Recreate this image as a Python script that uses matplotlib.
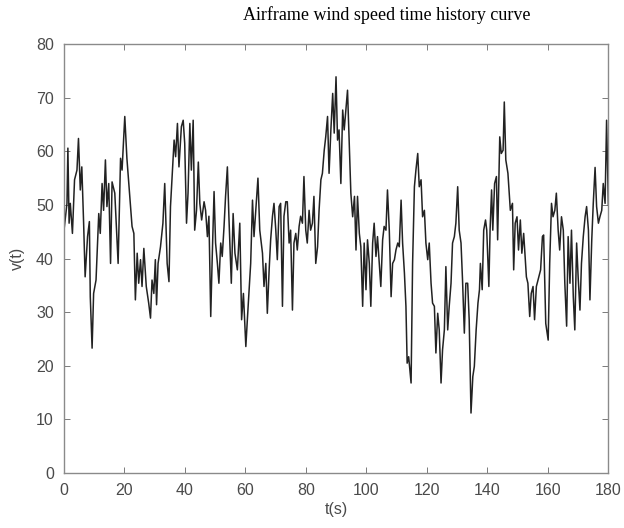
import matplotlib.pyplot as plt

# wind speed samples
t = [0.0, 1.1, 1.4, 1.8, 2.2, 2.9, 3.6, 4.4, 4.9, 5.5, 6.0, 6.6, 7.1, 7.9, 8.5, 8.8,
     9.4, 9.9, 10.7, 11.6, 12.1, 12.7, 13.2, 13.8, 14.3, 14.9, 15.5, 16.0, 16.9, 18.0,
     18.8, 19.3, 20.2, 20.9, 22.6, 23.2, 23.7, 24.3, 24.8, 25.4, 25.9, 26.5, 27.3, 28.1,
     28.7, 29.2, 29.8, 30.3, 30.7, 31.2, 32.0, 32.8, 33.4, 34.2, 34.8, 35.3, 35.9, 36.5,
     37.0, 37.6, 38.1, 38.9, 39.5, 40.0, 40.6, 41.1, 41.7, 42.2, 42.8, 43.3, 43.9, 44.5,
     45.0, 45.6, 46.4, 46.9, 47.5, 48.0, 48.6, 49.1, 49.7, 50.2, 50.8, 51.3, 51.9, 52.4,
     53.0, 53.5, 54.1, 54.6, 55.4, 56.0, 56.6, 57.4, 58.2, 58.8, 59.4, 60.2, 60.7, 61.8,
     62.4, 62.9, 63.5, 64.2, 64.8, 65.7, 66.2, 66.8, 67.3, 67.9, 68.4, 69.0, 69.5, 70.1,
     70.6, 71.2, 71.7, 72.3, 72.8, 73.4, 73.9, 74.5, 75.0, 75.6, 76.1, 76.7, 77.2, 77.8,
     78.3, 78.9, 79.4, 80.0, 80.5, 81.1, 81.6, 82.2, 82.7, 83.3, 83.9, 84.4, 85.0, 85.5,
     86.1, 86.6, 87.2, 87.7, 88.3, 88.9, 89.4, 90.0, 90.5, 91.0, 91.6, 92.2, 92.7, 93.8,
     94.4, 94.9, 95.5, 96.1, 96.6, 97.1, 97.7, 98.2, 98.8, 99.3, 99.9, 100.4, 101.0, 101.5,
     102.1, 102.6, 103.2, 103.7, 104.3, 104.8, 105.4, 105.9, 106.5, 107.0, 107.6, 108.2,
     108.7, 109.3, 109.8, 110.4, 110.9, 111.5, 112.0, 112.6, 113.1, 113.5, 114.0, 114.8,
     115.3, 115.9, 116.4, 117.0, 117.5, 118.1, 118.6, 119.2, 119.7, 120.3, 120.8, 121.4,
     121.9, 122.5, 123.0, 123.6, 124.1, 124.7, 125.2, 125.8, 126.3, 126.9, 127.4, 128.0,
     128.5, 129.1, 129.6, 130.2, 130.7, 131.3, 131.8, 132.4, 132.9, 133.5, 134.0, 134.6,
     135.2, 135.7, 136.3, 136.9, 137.4, 137.7, 138.3, 138.8, 139.4, 139.8, 140.5, 140.9,
     141.4, 141.8, 142.4, 143.0, 143.4, 144.1, 144.6, 145.2, 145.6, 146.1, 146.8, 147.6,
     148.3, 148.7, 149.2, 149.8, 150.3, 150.9, 151.4, 152.0, 152.9, 153.4, 154.0, 154.5,
     155.1, 155.6, 156.2, 157.0, 157.6, 158.2, 158.6, 159.3, 160.1, 160.6, 161.2, 161.7,
     162.3, 162.8, 163.4, 163.9, 164.5, 165.1, 165.6, 166.2, 166.7, 167.3, 167.8, 168.4,
     168.9, 169.5, 170.0, 170.6, 171.1, 171.7, 172.3, 172.8, 173.4, 173.9, 174.5, 175.0,
     175.6, 176.1, 176.7, 177.2, 177.8, 178.3, 178.9, 179.4, 180.0]

v = [44.7, 50.3, 60.6, 46.6, 50.3, 44.7, 54.7, 56.5, 62.4, 52.8, 57.1, 46.6, 36.6, 44.1, 46.9, 32.9,
     23.3, 33.5, 36.0, 48.4, 44.7, 54.0, 49.0, 58.4, 49.7, 54.0, 39.1, 54.3, 52.2, 39.1,
     58.7, 56.5, 66.5, 58.7, 46.0, 44.7, 32.3, 41.0, 35.4, 39.8, 34.8, 41.9, 34.8, 31.7,
     28.9, 36.0, 33.5, 39.8, 31.4, 39.1, 42.2, 46.6, 54.0, 39.1, 35.7, 49.7, 55.9, 62.1,
     59.0, 65.2, 57.1, 64.6, 65.8, 61.5, 46.6, 52.2, 65.2, 56.5, 65.8, 45.3, 49.0, 58.0,
     50.3, 47.2, 50.6, 49.0, 44.1, 47.9, 29.2, 40.4, 52.5, 42.9, 39.1, 35.4, 42.9, 40.4,
     46.0, 51.6, 57.1, 47.9, 35.4, 48.4, 41.0, 37.9, 46.6, 28.6, 33.5, 23.6, 28.6, 39.1,
     50.9, 44.1, 49.0, 55.0, 45.3, 41.0, 34.8, 39.1, 29.8, 37.9, 43.5, 47.9, 50.3, 45.3,
     39.8, 49.7, 50.3, 31.1, 47.9, 50.6, 50.6, 42.9, 45.3, 30.4, 42.9, 44.7, 41.6, 46.0,
     47.9, 46.6, 55.3, 45.3, 42.9, 49.0, 45.3, 46.6, 51.6, 39.1, 42.2, 49.0, 54.7, 55.9,
     60.2, 62.7, 66.5, 55.9, 64.0, 70.8, 63.4, 73.9, 62.1, 64.0, 54.0, 67.7, 64.0, 71.4,
     60.9, 52.2, 47.8, 51.6, 41.6, 51.6, 44.7, 42.2, 31.1, 42.9, 34.2, 43.5, 39.1, 31.1,
     42.9, 46.6, 40.4, 44.1, 39.1, 34.8, 43.5, 46.0, 45.3, 52.8, 45.3, 32.9,
     39.1, 39.8, 41.6, 42.9, 42.2, 50.9, 42.9, 37.3, 31.1, 20.5, 21.7, 16.8,
     39.1, 53.4, 56.5, 59.6, 53.4, 54.7, 47.8, 49.0, 42.9, 39.8, 42.9, 35.4,
     31.7, 31.1, 22.4, 29.8, 26.7, 16.8, 23.0, 26.7, 38.5, 26.7, 31.1, 35.4,
     42.9, 44.1, 46.6, 53.4, 45.3, 42.9, 36.0, 26.1, 35.4, 35.4, 28.6, 11.2,
     18.0, 19.9, 26.7, 31.7, 34.2, 39.1, 34.2, 45.3, 47.2, 45.3, 34.8, 45.3,
     52.8, 45.3, 54.0, 55.3, 43.5, 62.7, 59.6, 60.2, 69.2, 58.4, 55.9, 49.0,
     50.3, 37.9, 46.6, 47.8, 41.6, 47.2, 41.0, 44.7, 36.6, 35.4, 29.2, 33.5,
     34.8, 28.6, 34.8, 36.6, 37.9, 44.1, 44.4, 27.9, 24.8, 39.1, 50.3, 47.8,
     49.0, 52.2, 45.3, 41.6, 47.8, 45.3, 35.4, 27.4, 44.1, 35.4, 45.3, 32.9,
     26.7, 42.9, 36.6, 30.4, 39.1, 44.1, 47.8, 49.7, 45.3, 32.3, 43.5, 50.3,
     57.0, 49.7, 46.6, 47.8, 49.0, 54.0, 50.3, 65.8, 50.0]

x_ticks = [0, 20, 40, 60, 80, 100, 120, 140, 160, 180]
y_ticks = [0, 10, 20, 30, 40, 50, 60, 70, 80]

plt.rcParams['font.family'] = ['Liberation Sans', 'DejaVu Sans']

fig = plt.figure(figsize=(6.24, 5.28), dpi=100)
ax = fig.add_axes([0.102, 0.104, 0.873, 0.8125])

ax.plot(t, v, color="#222222", linewidth=1.1)

ax.set_xlim(0, 180)
ax.set_ylim(0, 80)
ax.set_xticks(x_ticks)
ax.set_yticks(y_ticks)
ax.tick_params(direction="in", top=True, right=True, length=4, width=0.7,
               colors="#7a7a7a", labelcolor="#4a4a4a", labelsize=11.5, pad=7)
for s in ax.spines.values():
    s.set_color("#8a8a8a")
    s.set_linewidth(1.0)

ax.set_xlabel("t(s)", fontsize=11.5, color="#4a4a4a", labelpad=3)
ax.set_ylabel("v(t)", fontsize=11.5, color="#4a4a4a", labelpad=8)

fig.text(0.619, 0.972, "Airframe wind speed time history curve",
         ha="center", va="center", fontsize=13, family="Liberation Serif")

fig.savefig("out.png", dpi=100)
